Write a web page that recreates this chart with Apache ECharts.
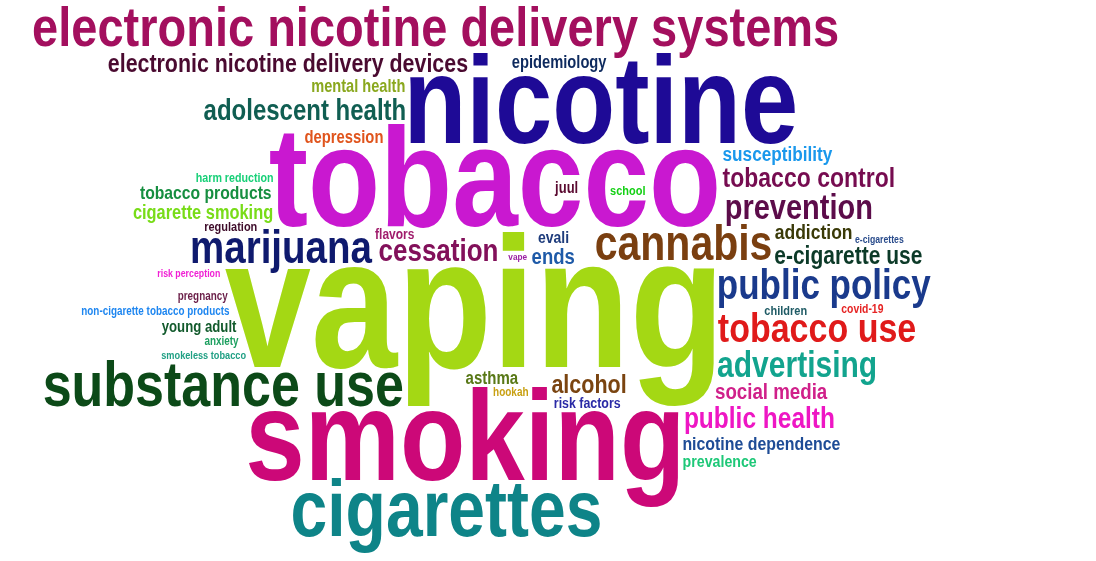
<!DOCTYPE html>
<html>
<head>
<meta charset="utf-8">
<script src="https://cdn.jsdelivr.net/npm/echarts@6/dist/echarts.min.js"></script>
<style>
html,body{margin:0;padding:0;background:#ffffff;}
#main{width:1096px;height:561px;}
</style>
</head>
<body>
<div id="main"></div>
<script>
// ---- data ----
const words = [
  'vaping','tobacco','smoking','nicotine','cigarettes','substance use',
  'electronic nicotine delivery systems','cannabis','marijuana','public policy',
  'tobacco use','advertising','prevention','cessation','public health',
  'adolescent health','tobacco control','alcohol','electronic nicotine delivery devices',
  'e-cigarette use','social media','ends','addiction','susceptibility',
  'cigarette smoking','nicotine dependence','tobacco products','asthma','depression',
  'epidemiology','mental health','prevalence','evali','young adult','juul',
  'risk factors','flavors','children','school','regulation','harm reduction',
  'covid-19','hookah','pregnancy','non-cigarette tobacco products','anxiety',
  'smokeless tobacco','risk perception','e-cigarettes','vape'
];
const weights = [
  155,118,107,103,66,52,
  47,41,38.5,35,
  34,30,29,26,24.5,
  24,23,21.5,21.4,
  21,18.7,18.5,17.5,17.2,
  16.4,15.9,15.7,15,14.8,
  14.7,14.6,14.2,14,13.2,13,
  12.4,12,11,11,11,10.7,
  10.4,10,9.9,9.9,9.9,
  9.2,8.8,8.7,8.3
];
const colors = [
  '#a4d814','#c918d0','#cc0878','#1e0a96','#0e8488','#0c4a18',
  '#a30f5e','#7a3f10','#0f1a6e','#1a3a8c',
  '#e01a1a','#12a48e','#5c0c4a','#82105a','#ee16c4',
  '#105e52','#760c50','#7a4410','#4a0a30',
  '#0c3a28','#d0208a','#1e5aa8','#3a3a08','#1a98ec',
  '#78dc18','#1e4c96','#168e40','#587816','#e0541c',
  '#0e2a5e','#8aa81e','#1ec878','#1e3c7c','#125a2c','#5a0a30',
  '#2a2aa6','#a01c6c','#1e5a64','#14d014','#3e0c2a','#18d078',
  '#e62424','#c8a012','#6a1e48','#1e86f0','#1ea060',
  '#20a084','#f020d4','#2a4c8c','#9a20a4'
];

// ---- style / layout settings ----
const FAMILY = '"Liberation Sans", Arial, sans-serif';
const SX = 1.0, SY = 1.2;
const GRID = 3, GAP = 1;
const CENTER = [0.5, 0.5];
const ELLIPTICITY = 0.65;
const DROP = 0.2;     // text drawn slightly below its layout point
const LEAN = 0.146;   // text drawn left of its layout point, as a share of its width

function layoutCloud(W, H) {
  const G = GRID;
  const ngx = Math.floor(W / G), ngy = Math.floor(H / G);
  const board = new Uint8Array(ngx * ngy);
  const cx = CENTER[0] * W / G, cy = CENTER[1] * H / G;
  const ell = ELLIPTICITY;
  const maxR = Math.ceil(Math.sqrt(ngx * ngx + ngy * ngy));
  const cv = document.createElement('canvas');
  const ctx = cv.getContext('2d', { willReadFrequently: true });
  const order = words.map((w, i) => i).sort((a, b) => weights[b] - weights[a]);
  const result = new Array(words.length).fill(null);
  let seed = 12345;
  const rnd = () => { seed = (seed * 1103515245 + 12345) % 2147483648; return seed / 2147483648; };

  for (const idx of order) {
    const f = weights[idx];
    const font = 'bold ' + f + 'px ' + FAMILY;
    ctx.font = font;
    const tw = ctx.measureText(words[idx]).width * SX;
    const cgw = Math.ceil((tw * 1.4 + 2 * f) / G), cgh = Math.ceil((3 * f * SY) / G);
    const cw = cgw * G, ch = cgh * G;
    const dropY = DROP * f * SY, leanX = -LEAN * tw;
    cv.width = cw; cv.height = ch;
    ctx.setTransform(SX, 0, 0, SY, cw / 2 + leanX, ch / 2 + dropY);
    ctx.font = font;
    ctx.textAlign = 'center';
    ctx.textBaseline = 'middle';
    ctx.fillStyle = '#000';
    ctx.fillText(words[idx], 0, 0);
    const img = ctx.getImageData(0, 0, cw, ch).data;
    const rel = [];
    let minI = 1e9, maxI = -1, minJ = 1e9, maxJ = -1;
    for (let j = 0; j < cgh; j++) {
      for (let i = 0; i < cgw; i++) {
        let hit = false;
        for (let y = j * G; y < (j + 1) * G && !hit; y++) {
          for (let x = i * G; x < (i + 1) * G; x++) {
            if (img[(y * cw + x) * 4 + 3] > 0) { hit = true; break; }
          }
        }
        if (hit) {
          rel.push([i, j]);
          if (i < minI) minI = i; if (i > maxI) maxI = i;
          if (j < minJ) minJ = j; if (j > maxJ) maxJ = j;
        }
      }
    }
    if (!rel.length) continue;
    for (let k = rel.length - 1; k > 0; k--) {
      const m = Math.floor(rnd() * (k + 1));
      const t = rel[k]; rel[k] = rel[m]; rel[m] = t;
    }
    const offs = rel.map(c => c[1] * ngx + c[0]);

    const tryAt = (px, py) => {
      const gx = Math.floor(px - cgw / 2), gy = Math.floor(py - cgh / 2);
      if (gx + minI < 0 || gy + minJ < 0 || gx + maxI >= ngx || gy + maxJ >= ngy) return false;
      const base = gy * ngx + gx;
      for (let k = 0; k < offs.length; k++) if (board[base + offs[k]]) return false;
      for (const c of rel) {
        const X = gx + c[0], Y = gy + c[1];
        for (let dy = -GAP; dy <= GAP; dy++) {
          for (let dx = -GAP; dx <= GAP; dx++) {
            const xx = X + dx, yy = Y + dy;
            if (xx >= 0 && yy >= 0 && xx < ngx && yy < ngy) board[yy * ngx + xx] = 1;
          }
        }
      }
      result[idx] = { x: gx * G + cw / 2 + leanX, y: gy * G + ch / 2 + dropY };
      return true;
    };

    // spiral: from the right, turning upward first
    let placed = tryAt(cx, cy);
    for (let r = 1; r <= maxR && !placed; r++) {
      const T = r * 8;
      for (let t = 0; t < T; t++) {
        const th = t / T * 2 * Math.PI;
        if (tryAt(cx + r * Math.cos(th), cy - r * Math.sin(th) * ell)) { placed = true; break; }
      }
    }
  }
  return result;
}

const chart = echarts.init(document.getElementById('main'), null, { renderer: 'canvas' });
const positions = layoutCloud(chart.getWidth(), chart.getHeight());

chart.setOption({
  backgroundColor: '#ffffff',
  animation: false,
  series: [{
    type: 'custom',
    coordinateSystem: 'none',
    silent: true,
    data: words.map((w, i) => ({ name: w, value: weights[i] })),
    renderItem: function (params, api) {
      const i = params.dataIndex;
      const p = positions[i];
      if (!p) return null;
      return {
        type: 'text',
        x: p.x,
        y: p.y,
        scaleX: SX,
        scaleY: SY,
        style: {
          text: words[i],
          fontSize: weights[i],
          fontWeight: 'bold',
          fontFamily: FAMILY,
          fill: colors[i],
          align: 'center',
          verticalAlign: 'middle'
        }
      };
    }
  }]
});
</script>
</body>
</html>
